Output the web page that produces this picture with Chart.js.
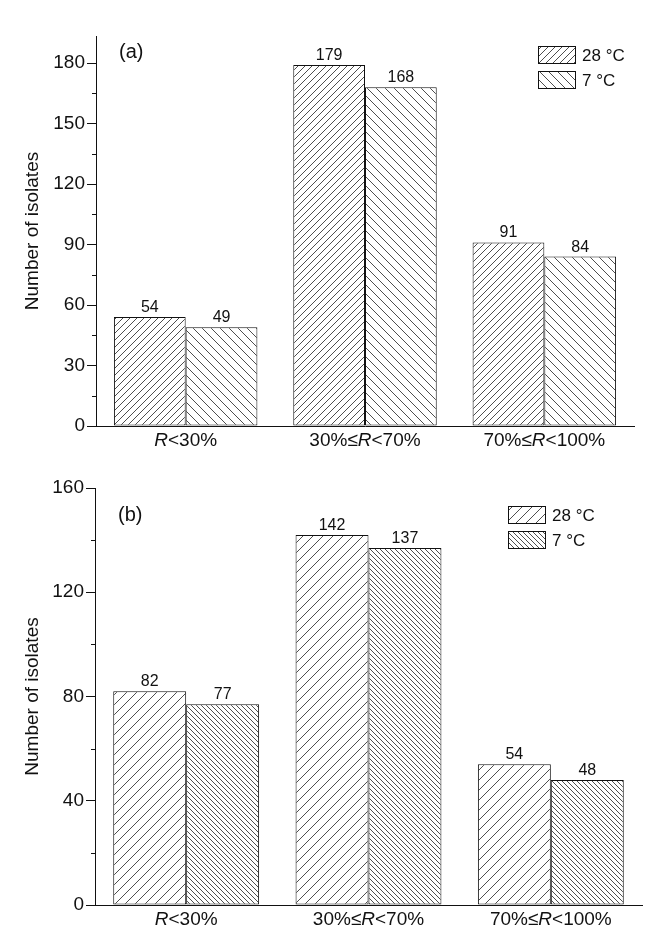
<!DOCTYPE html>
<html>
<head>
<meta charset="utf-8">
<script src="https://cdn.jsdelivr.net/npm/chart.js@4.4.1/dist/chart.umd.min.js"></script>
<style>
  html, body { margin: 0; padding: 0; background: #fff; }
  canvas { display: block; }
</style>
</head>
<body>
<canvas id="chartA" width="667" height="469"></canvas>
<canvas id="chartB" width="667" height="469"></canvas>
<script>
// data
const categories = ['R<30%', '30%≤R<70%', '70%≤R<100%'];
const seriesLabels = ['28 °C', '7 °C'];
const countsA28 = [54, 179, 91];
const countsA7 = [49, 168, 84];
const countsB28 = [82, 142, 54];
const countsB7 = [77, 137, 48];
const yTicksA = [0, 30, 60, 90, 120, 150, 180];
const yMinorA = [15, 45, 75, 105, 135, 165];
const yTicksB = [0, 40, 80, 120, 160];
const yMinorB = [20, 60, 100, 140];

const FONT = "'Liberation Sans', Arial, sans-serif";
const INK = '#111';

// diagonal hatch fill, dir '/' or '\'
function hatch(ctx, s, dir) {
    var c = document.createElement('canvas');
    c.width = s; c.height = s;
    var g = c.getContext('2d');
    g.fillStyle = '#fff';
    g.fillRect(0, 0, s, s);
    g.strokeStyle = '#3a3a3a';
    g.lineWidth = 0.9;
    g.beginPath();
    if (dir === '/') {
        g.moveTo(-1, s + 1); g.lineTo(s + 1, -1);
        g.moveTo(-2, 2); g.lineTo(2, -2);
        g.moveTo(s - 2, s + 2); g.lineTo(s + 2, s - 2);
    } else {
        g.moveTo(-1, -1); g.lineTo(s + 1, s + 1);
        g.moveTo(-2, s - 2); g.lineTo(2, s + 2);
        g.moveTo(s - 2, -2); g.lineTo(s + 2, 2);
    }
    g.stroke();
    return ctx.createPattern(c, 'repeat');
}

function drawCategory(ctx, label, cx, cy) {
    // italic R inside the label
    var parts = [];
    label.split('R').forEach(function(p, i) {
        if (i > 0) parts.push({ t: 'R', it: true });
        if (p) parts.push({ t: p, it: false });
    });
    var total = 0;
    parts.forEach(function(p) {
        ctx.font = (p.it ? 'italic ' : '') + '19px ' + FONT;
        p.w = ctx.measureText(p.t).width;
        total += p.w;
    });
    var x = cx - total / 2;
    ctx.textAlign = 'left';
    ctx.textBaseline = 'middle';
    parts.forEach(function(p) {
        ctx.font = (p.it ? 'italic ' : '') + '19px ' + FONT;
        ctx.fillText(p.t, x, cy);
        x += p.w;
    });
}

function buildChart(id, cfg) {
    var ctx = document.getElementById(id).getContext('2d');
    var fills = cfg.hatches.map(function(h) { return hatch(ctx, h[0], h[1]); });

    var panelPlugin = {
        id: 'panel' + id,
        afterDraw: function(chart) {
            var c = chart.ctx;
            var area = chart.chartArea;
            var y = chart.scales.y;
            var x = chart.scales.x;
            c.save();
            c.fillStyle = INK;
            c.strokeStyle = INK;
            c.lineWidth = 1;

            // minor ticks
            c.beginPath();
            cfg.minor.forEach(function(v) {
                var py = Math.round(y.getPixelForValue(v)) + 0.5;
                c.moveTo(area.left - 4, py);
                c.lineTo(area.left, py);
            });
            c.stroke();

            // value labels
            c.font = '16px ' + FONT;
            c.textAlign = 'center';
            c.textBaseline = 'alphabetic';
            chart.data.datasets.forEach(function(ds, di) {
                chart.getDatasetMeta(di).data.forEach(function(bar, i) {
                    c.fillText(String(ds.data[i]), bar.x, bar.y - 5);
                });
            });

            // category labels
            categories.forEach(function(lab, i) {
                drawCategory(c, lab, x.getPixelForValue(i), area.bottom + 15);
            });

            // y title
            c.save();
            c.translate(33, (area.top + area.bottom) / 2);
            c.rotate(-Math.PI / 2);
            c.font = '19px ' + FONT;
            c.textAlign = 'center';
            c.textBaseline = 'middle';
            c.fillText('Number of isolates', 0, 0);
            c.restore();

            // panel letter
            c.font = '20px ' + FONT;
            c.textAlign = 'left';
            c.textBaseline = 'middle';
            c.fillText(cfg.letter, cfg.letterPos[0], cfg.letterPos[1]);

            // legend
            seriesLabels.forEach(function(name, i) {
                var lx = cfg.legend[0], ly = cfg.legend[1] + i * 25;
                c.fillStyle = fills[i];
                c.fillRect(lx, ly, 38, 18);
                c.strokeStyle = INK;
                c.strokeRect(lx + 0.5, ly + 0.5, 37, 17);
                c.fillStyle = INK;
                c.font = '17px ' + FONT;
                c.fillText(name, lx + 44, ly + 10);
            });
            c.restore();
        }
    };

    return new Chart(ctx, {
        type: 'bar',
        data: {
            labels: categories,
            datasets: [
                { label: seriesLabels[0], data: cfg.d28, backgroundColor: fills[0] },
                { label: seriesLabels[1], data: cfg.d7, backgroundColor: fills[1] }
            ]
        },
        options: {
            responsive: false,
            animation: false,
            layout: { padding: { top: cfg.top, right: cfg.right, left: 0, bottom: 0 } },
            datasets: {
                bar: {
                    borderColor: INK,
                    borderWidth: 1,
                    borderSkipped: false,
                    categoryPercentage: 0.8,
                    barPercentage: 1
                }
            },
            plugins: {
                legend: { display: false },
                tooltip: { enabled: false }
            },
            scales: {
                x: {
                    grid: { display: true, drawOnChartArea: false, drawTicks: false },
                    border: { display: true, color: INK, width: 1 },
                    ticks: { display: false },
                    afterFit: function(s) { s.height = cfg.xHeight; }
                },
                y: {
                    min: 0,
                    max: cfg.ymax,
                    afterBuildTicks: function(s) {
                        s.ticks = cfg.ticks.map(function(v) { return { value: v }; });
                    },
                    grid: { display: true, drawOnChartArea: false, drawTicks: true, tickLength: 9, color: INK },
                    border: { display: true, color: INK, width: 1 },
                    ticks: { color: INK, padding: 2, font: { family: FONT, size: 19 } },
                    afterFit: function(s) { s.width = cfg.yWidth; }
                }
            }
        },
        plugins: [panelPlugin]
    });
}

buildChart('chartA', {
    d28: countsA28, d7: countsA7,
    ymax: 193.4, ticks: yTicksA, minor: yMinorA,
    top: 36, right: 33, yWidth: 96, xHeight: 43,
    letter: '(a)', letterPos: [119, 52], legend: [538, 46],
    hatches: [[7, '/'], [9, '\\']]
});

buildChart('chartB', {
    d28: countsB28, d7: countsB7,
    ymax: 160, ticks: yTicksB, minor: yMinorB,
    top: 19, right: 25, yWidth: 95, xHeight: 33,
    letter: '(b)', letterPos: [118, 46], legend: [508, 37],
    hatches: [[10, '/'], [5, '\\']]
});
</script>
</body>
</html>
